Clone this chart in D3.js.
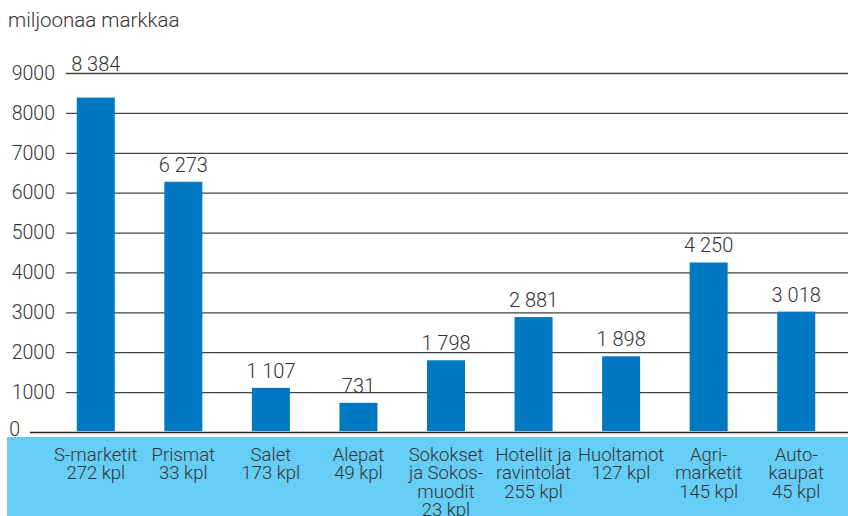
<!DOCTYPE html>
<html>
<head>
<meta charset="utf-8">
<script src="https://cdn.jsdelivr.net/npm/d3@7"></script>
<style>
  body { margin: 0; background: white; }
  text { font-family: Roboto, 'Liberation Sans', sans-serif; font-weight: 300; fill: #333; }
</style>
</head>
<body>
<svg id="chart"></svg>
<script>
var categories = [
  ['S-marketit', '272 kpl'],
  ['Prismat', '33 kpl'],
  ['Salet', '173 kpl'],
  ['Alepat', '49 kpl'],
  ['Sokokset', 'ja Sokos-', 'muodit', '23 kpl'],
  ['Hotellit ja', 'ravintolat', '255 kpl'],
  ['Huoltamot', '127 kpl'],
  ['Agri-', 'marketit', '145 kpl'],
  ['Auto-', 'kaupat', '45 kpl']
];
var values = [8384, 6273, 1107, 731, 1798, 2881, 1898, 4250, 3018];
var valueLabels = ['8 384', '6 273', '1 107', '731', '1 798', '2 881', '1 898', '4 250', '3 018'];
var yTicks = [0, 1000, 2000, 3000, 4000, 5000, 6000, 7000, 8000, 9000];
var unitLabel = 'miljoonaa markkaa';

var width = 848;
var height = 516;
var barColor = '#0079c2';
var bandColor = '#66cdf5';

var svg = d3.select('#chart')
  .attr('width', width)
  .attr('height', height);

var x = d3.scaleBand()
  .domain(d3.range(categories.length))
  .range([52, 840])
  .paddingInner(0.566)
  .paddingOuter(0.283);

var y = d3.scaleLinear()
  .domain([0, 9000])
  .range([432, 73]);

// light blue strip behind the category names
svg.append('rect')
  .attr('x', 7)
  .attr('y', 437)
  .attr('width', width - 7)
  .attr('height', height - 437)
  .attr('fill', bandColor);

svg.append('text')
  .attr('x', 8)
  .attr('y', 27)
  .style('font-size', '20.5px')
  .text(unitLabel);

var yAxis = svg.append('g')
  .attr('transform', 'translate(66,0)')
  .call(d3.axisLeft(y).tickValues(yTicks).tickSize(-(width - 66)).tickPadding(11).tickFormat(d3.format('d')));

yAxis.select('.domain').remove();
yAxis.selectAll('.tick line')
  .attr('stroke', '#444')
  .attr('stroke-width', 1.3);
yAxis.selectAll('.tick text')
  .style('font-size', '19.5px')
  .attr('fill', '#333');
yAxis.selectAll('.tick')
  .filter(function(d) { return d === 0; })
  .select('line')
  .attr('x1', 30 - 66)
  .attr('stroke', '#222')
  .attr('stroke-width', 1.6);
yAxis.selectAll('.tick')
  .filter(function(d) { return d === 0; })
  .select('text')
  .attr('x', 20 - 66)
  .attr('dy', '0.2em');

svg.append('g')
  .selectAll('rect')
  .data(values)
  .join('rect')
  .attr('x', function(d, i) { return x(i); })
  .attr('y', function(d) { return y(d); })
  .attr('width', x.bandwidth())
  .attr('height', function(d) { return y(0) - y(d) - 0.8; })
  .attr('fill', barColor);

// value above each bar; when it would run into the top gridline, put it over the line
svg.append('g')
  .selectAll('text')
  .data(values)
  .join('text')
  .attr('x', function(d, i) { return x(i) + x.bandwidth() / 2; })
  .attr('y', function(d) {
    var ly = y(d) - 10;
    return ly < y(9000) + 18 ? y(9000) - 2 : ly;
  })
  .attr('text-anchor', 'middle')
  .style('font-size', '20px')
  .text(function(d, i) { return valueLabels[i]; });

var catLabels = svg.append('g')
  .selectAll('text')
  .data(categories)
  .join('text')
  .attr('text-anchor', 'middle')
  .style('font-size', '18.5px')
  .attr('x', function(d, i) { return x(i) + x.bandwidth() / 2; })
  .attr('y', 461);

catLabels.selectAll('tspan')
  .data(function(d) { return d; })
  .join('tspan')
  .attr('x', function() { return d3.select(this.parentNode).attr('x'); })
  .attr('dy', function(d, j) { return j === 0 ? 0 : 18.3; })
  .text(function(d) { return d; });
</script>
</body>
</html>
